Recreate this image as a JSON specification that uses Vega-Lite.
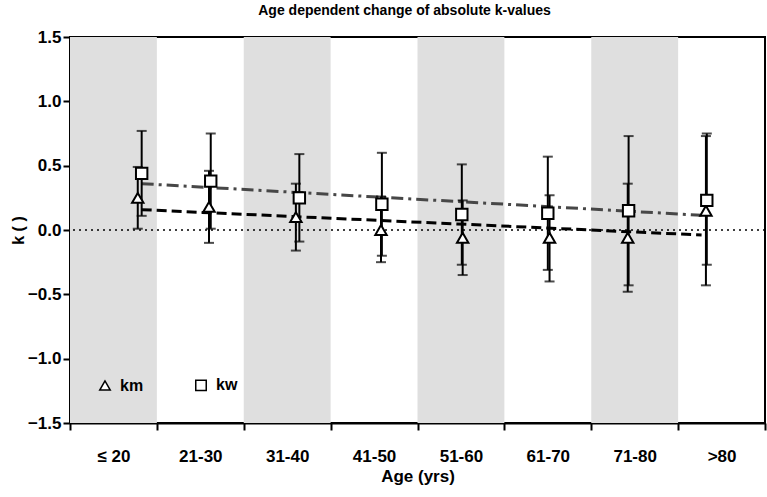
{
  "$schema": "https://vega.github.io/schema/vega-lite/v6.json",
  "width": 695,
  "height": 386,
  "autosize": {"type": "none"},
  "padding": {"left": 70, "top": 37, "right": 2, "bottom": 74},
  "background": "white",
  "config": {
    "font": "Liberation Sans",
    "view": {"stroke": "black", "strokeWidth": 2},
    "axis": {"grid": false, "labelFont": "Liberation Sans", "titleFont": "Liberation Sans", "labelColor": "black", "titleColor": "black", "domainColor": "black", "tickColor": "black"}
  },
  "title": {"text": "Age dependent change of absolute k-values", "fontSize": 14, "fontWeight": "bold", "font": "Liberation Sans", "anchor": "middle", "dx": -13, "offset": 10, "color": "black"},
  "datasets": {
    "bands": [
      {"start": 10, "end": 20},
      {"start": 30, "end": 40},
      {"start": 50, "end": 60},
      {"start": 70, "end": 80}
    ],
    "points": [
      {"series": "km", "age": 17.8, "k": 0.25, "lo": 0.01, "hi": 0.49},
      {"series": "km", "age": 26.0, "k": 0.18, "lo": -0.10, "hi": 0.46},
      {"series": "km", "age": 36.0, "k": 0.10, "lo": -0.16, "hi": 0.36},
      {"series": "km", "age": 45.8, "k": 0.0, "lo": -0.25, "hi": 0.26},
      {"series": "km", "age": 55.2, "k": -0.06, "lo": -0.35, "hi": 0.23},
      {"series": "km", "age": 65.2, "k": -0.06, "lo": -0.40, "hi": 0.27},
      {"series": "km", "age": 74.2, "k": -0.06, "lo": -0.48, "hi": 0.36},
      {"series": "km", "age": 83.2, "k": 0.15, "lo": -0.43, "hi": 0.73},
      {"series": "kw", "age": 18.25, "k": 0.44, "lo": 0.11, "hi": 0.77},
      {"series": "kw", "age": 26.2, "k": 0.38, "lo": 0.01, "hi": 0.75},
      {"series": "kw", "age": 36.4, "k": 0.25, "lo": -0.09, "hi": 0.59},
      {"series": "kw", "age": 45.9, "k": 0.20, "lo": -0.20, "hi": 0.60},
      {"series": "kw", "age": 55.1, "k": 0.12, "lo": -0.27, "hi": 0.51},
      {"series": "kw", "age": 65.0, "k": 0.13, "lo": -0.31, "hi": 0.57},
      {"series": "kw", "age": 74.3, "k": 0.15, "lo": -0.43, "hi": 0.73},
      {"series": "kw", "age": 83.3, "k": 0.23, "lo": -0.27, "hi": 0.75}
    ],
    "fits": [
      {"series": "km", "age": 18.25, "k": 0.158},
      {"series": "km", "age": 82.7, "k": -0.039},
      {"series": "kw", "age": 18.25, "k": 0.36},
      {"series": "kw", "age": 82.7, "k": 0.114}
    ]
  },
  "layer": [
    {
      "data": {"name": "bands"},
      "mark": {"type": "rect", "color": "#dfdfdf"},
      "encoding": {
        "x": {"field": "start", "type": "quantitative", "scale": {"domain": [10, 90], "nice": false, "zero": false},
          "axis": {
            "values": [10, 15, 20, 25, 30, 35, 40, 45, 50, 55, 60, 65, 70, 75, 80, 85, 90],
            "labelExpr": "datum.value == 15 ? '≤ 20' : (datum.value == 85 ? '>80' : (datum.value % 10 == 5 ? (datum.value - 4) + '-' + (datum.value + 5) : ''))",
            "tickOpacity": {"condition": {"test": "datum.value % 10 == 0", "value": 1}, "value": 0},
            "labelOverlap": false, "labelFlush": false, "labelBound": false,
            "tickSize": 7, "tickWidth": 2, "domainWidth": 2,
            "labelPadding": 18, "labelFontSize": 17, "labelFontWeight": "bold",
            "title": "Age (yrs)", "titleFontSize": 17, "titleFontWeight": "bold", "titlePadding": 4
          }},
        "x2": {"field": "end"}
      }
    },
    {
      "data": {"values": [{}]},
      "mark": {"type": "rule", "color": "black", "strokeDash": [2, 4], "strokeWidth": 1.5},
      "encoding": {"y": {"datum": 0, "type": "quantitative"}}
    },
    {
      "data": {"name": "fits"},
      "transform": [{"filter": "datum.series == 'kw'"}],
      "mark": {"type": "line", "color": "#474747", "strokeWidth": 3, "strokeDash": [12, 5, 3, 5]},
      "encoding": {
        "x": {"field": "age", "type": "quantitative"},
        "y": {"field": "k", "type": "quantitative"}
      }
    },
    {
      "data": {"name": "fits"},
      "transform": [{"filter": "datum.series == 'km'"}],
      "mark": {"type": "line", "color": "black", "strokeWidth": 3, "strokeDash": [10, 5]},
      "encoding": {
        "x": {"field": "age", "type": "quantitative"},
        "y": {"field": "k", "type": "quantitative"}
      }
    },
    {
      "data": {"name": "points"},
      "mark": {"type": "rule", "color": "black", "strokeWidth": 2},
      "encoding": {
        "x": {"field": "age", "type": "quantitative"},
        "y": {"field": "lo", "type": "quantitative"},
        "y2": {"field": "hi"}
      }
    },
    {
      "data": {"name": "points"},
      "mark": {"type": "tick", "orient": "horizontal", "size": 10, "thickness": 2, "color": "black"},
      "encoding": {
        "x": {"field": "age", "type": "quantitative"},
        "y": {"field": "lo", "type": "quantitative"}
      }
    },
    {
      "data": {"name": "points"},
      "mark": {"type": "tick", "orient": "horizontal", "size": 10, "thickness": 2, "color": "black"},
      "encoding": {
        "x": {"field": "age", "type": "quantitative"},
        "y": {"field": "hi", "type": "quantitative"}
      }
    },
    {
      "data": {"name": "points"},
      "mark": {"type": "point", "filled": false, "fill": "white", "fillOpacity": 1, "color": "black", "stroke": "black", "strokeWidth": 2, "size": 130, "opacity": 1},
      "encoding": {
        "x": {"field": "age", "type": "quantitative"},
        "y": {"field": "k", "type": "quantitative",
          "scale": {"domain": [-1.5, 1.5], "nice": false, "zero": false},
          "axis": {
            "values": [-1.5, -1, -0.5, 0, 0.5, 1, 1.5], "format": ".1f",
            "tickSize": 7, "tickWidth": 2, "domainWidth": 2, "labelPadding": 2,
            "labelFontSize": 17, "labelFontWeight": "bold",
            "title": "k ( )", "titleFontSize": 16, "titleFontWeight": "bold",
            "titleX": -52, "titleY": 193, "titleAngle": -90, "titleAlign": "center", "titleBaseline": "middle"
          }},
        "shape": {"field": "series", "type": "nominal",
          "scale": {"domain": ["km", "kw"], "range": ["triangle-up", "square"]},
          "legend": {
            "orient": "none", "legendX": 27, "legendY": 340, "direction": "horizontal", "title": null,
            "labelFontSize": 16, "labelFontWeight": "bold", "labelColor": "black", "labelFont": "Liberation Sans",
            "symbolSize": 110, "labelOffset": 7, "columnPadding": 48,
            "encode": {"symbols": {"update": {"stroke": {"value": "black"}, "fill": {"value": "white"}, "strokeWidth": {"value": 2}, "opacity": {"value": 1}}}}
          }}
      }
    }
  ]
}
